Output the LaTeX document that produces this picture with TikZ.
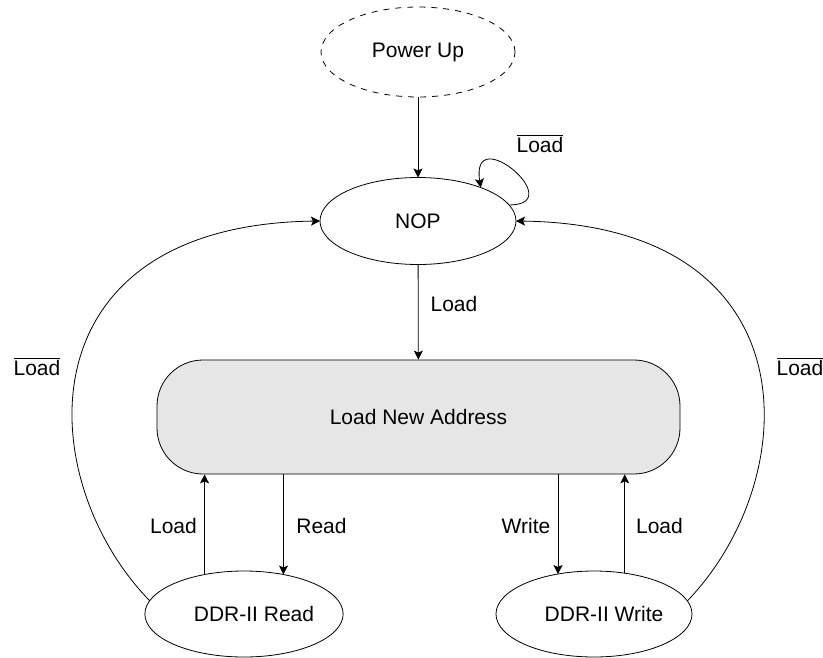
\documentclass[tikz,border=0pt]{standalone}
\usepackage{fontspec}
\setmainfont{Liberation Sans}
\usetikzlibrary{shapes.geometric,arrows.meta}
\newcommand\notload{$\overline{\mbox{Load}}$}
\begin{document}
\begin{tikzpicture}[x=1pt,y=-1pt,
  font=\fontsize{21}{25}\selectfont,
  line width=0.8pt,
  state/.style={ellipse,draw,inner sep=0pt,outer sep=0pt,minimum width=196pt,minimum height=87pt},
  arr/.style={-{Stealth[length=9pt,width=9pt,inset=2pt]}},
  lbl/.style={anchor=base,inner sep=0pt}]
\useasboundingbox (0,0) rectangle (823,657);

\node[state,dash pattern=on 6pt off 6pt,minimum width=194pt,minimum height=90pt] (pu) at (418,52) {Power Up};
\node[state] (nop) at (418,221) {NOP};
\node[draw,fill={rgb,255:red,230;green,230;blue,230},rounded corners=46pt,
      minimum width=523pt,minimum height=114pt,inner sep=0pt] (lna) at (418.5,417) {Load New Address};
\node[state,minimum width=194pt,minimum height=86pt] (rd) at (244,614) {\hspace*{20pt}DDR-II Read};
\node[state,minimum width=196pt,minimum height=86pt] (wr) at (594,614) {\hspace*{20pt}DDR-II Write};

\draw[arr] (pu) -- (nop);
\draw[arr] (nop) -- (lna);
\draw[arr] (nop.10) .. controls (570,205) and (470,120) .. (nop.28);

\draw[arr] (rd.135) -- (rd.135 |- lna.south);
\draw[arr] (lna.south -| rd.45) -- (rd.45);
\draw[arr] (lna.south -| wr.132) -- (wr.132);
\draw[arr] (wr.53) -- (wr.53 |- lna.south);

\draw[arr] (rd.172) .. controls (32,480) and (20,225) .. (nop.west);
\draw[arr] (wr.8) .. controls (804,480) and (816,225) .. (nop.east);

\node[lbl] (l1) at (540,152) {\notload};
\node[lbl] (l2) at (454,311) {Load};
\node[lbl] (l3) at (37,375) {\notload};
\node[lbl] (l4) at (800,375) {\notload};
\node[lbl] (l5) at (173.5,533) {Load};
\node[lbl] (l6) at (321.5,533) {Read};
\node[lbl] (l7) at (526,533) {Write};
\node[lbl] (l8) at (659.5,533) {Load};
\end{tikzpicture}
\end{document}
